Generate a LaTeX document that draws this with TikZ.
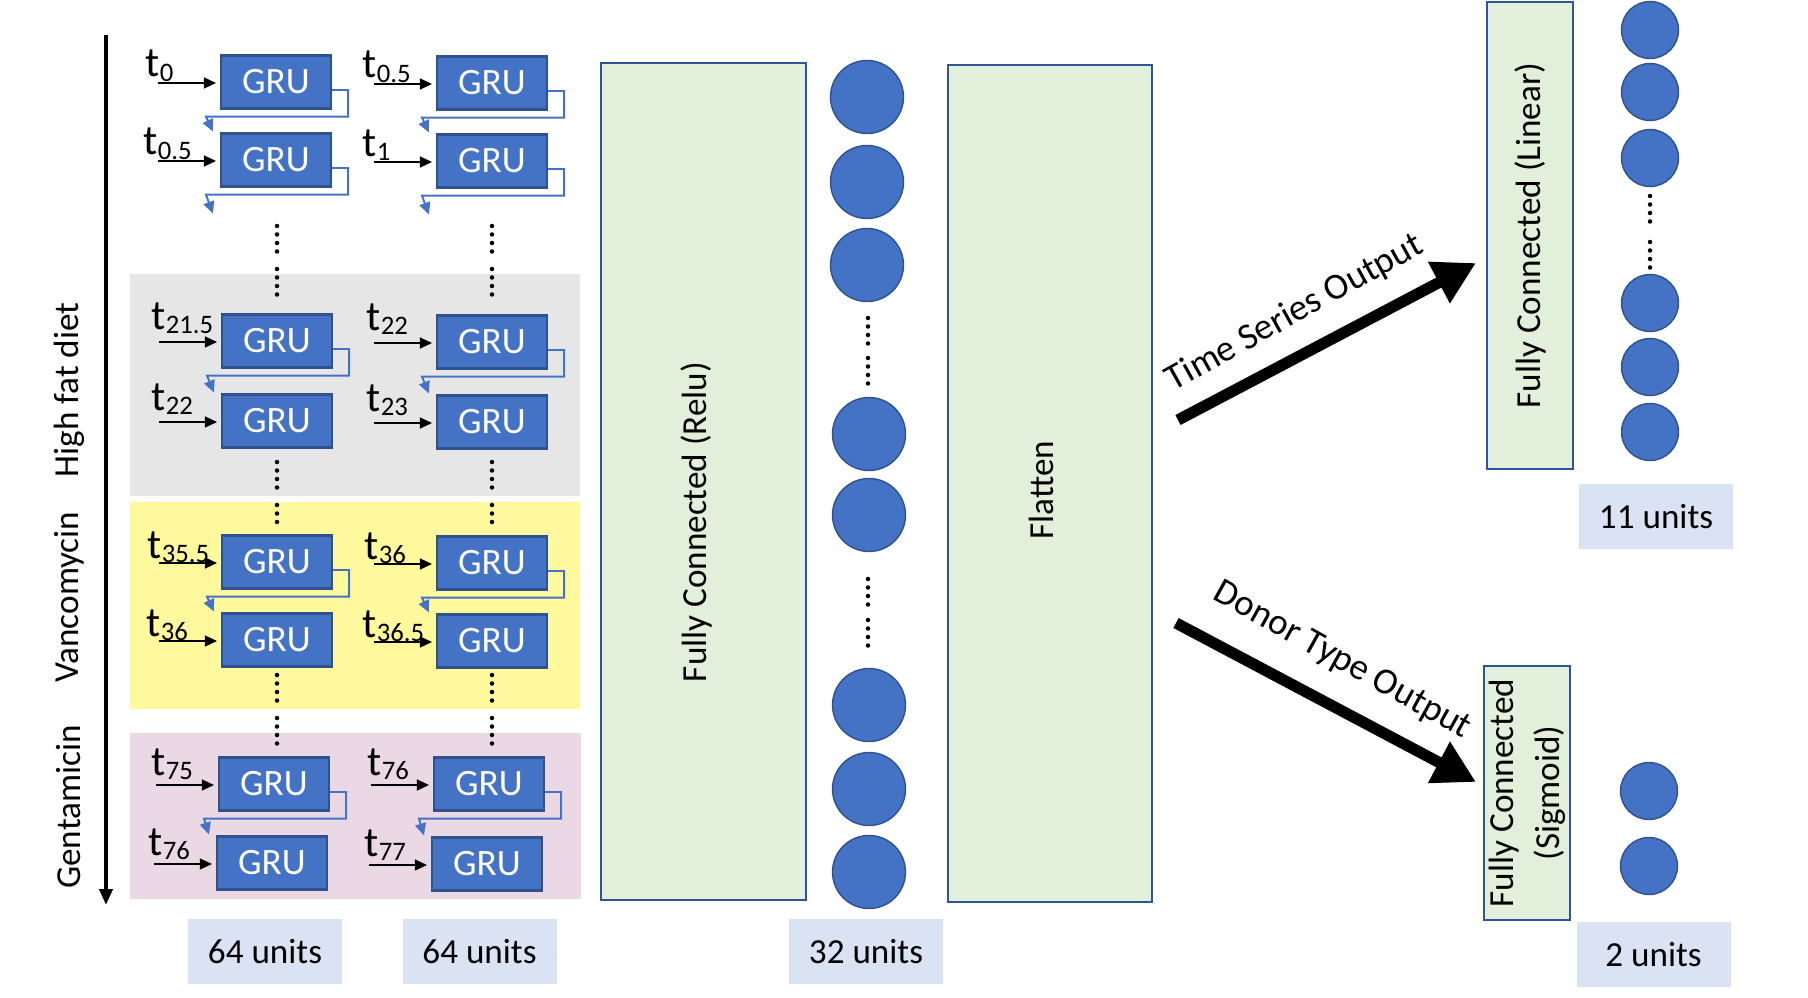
\documentclass[tikz,border=0pt]{standalone}
\usepackage{fontspec}
\setmainfont{Carlito}
\usepackage{tikz}
\usetikzlibrary{arrows.meta}
\definecolor{grufill}{HTML}{4472C4}
\definecolor{gruline}{HTML}{2F528F}
\definecolor{densefill}{HTML}{E2EFDA}
\definecolor{denseline}{HTML}{2F5597}
\definecolor{unitsfill}{HTML}{DAE3F3}
\definecolor{hfdgray}{HTML}{E7E6E6}
\definecolor{vancoyellow}{HTML}{FFF99E}
\definecolor{gentapink}{HTML}{EBD8E5}
\newcommand{\tsub}[1]{t\raisebox{-1.3pt}{\fontsize{7.6}{8}\selectfont #1}}
\tikzset{gru/.style={draw=gruline, fill=grufill, text=white, line width=0.6pt,
		minimum width=11mm, minimum height=5.3mm, inner sep=0pt,
		font=\fontsize{10.6}{12}\selectfont},
	tin/.style={anchor=base west, inner sep=0pt, font=\fontsize{12}{14}\selectfont},
	dense/.style={draw=denseline, fill=densefill, line width=0.5pt, inner sep=0pt,
		font=\fontsize{10}{13}\selectfont},
	neuron/.style={circle, draw=gruline, fill=grufill, line width=0.4pt, inner sep=0pt},
	units/.style={fill=unitsfill, inner sep=0pt, minimum width=15.4mm, minimum height=6.5mm,
		font=\fontsize{10}{12}\selectfont},
	phase/.style={rotate=90, inner sep=0pt, font=\fontsize{10}{12}\selectfont},
	vdots/.style={line width=0.45mm, line cap=round, dash pattern=on 0pt off 0.85mm},
	inarr/.style={-{Triangle[length=1.2mm,width=1.1mm]}, line width=0.4pt},
	looparr/.style={draw=grufill, line width=0.55pt, -{Triangle[length=1.2mm,width=1.1mm]}},
	outarr/.style={line width=3.2pt, -{Triangle[length=4.2mm,width=4.4mm]}}}

\begin{document}
\begin{tikzpicture}[x=0.1mm, y=-0.1mm]
	\useasboundingbox (0,0) rectangle (1808,998);
	% treatment phases
	\fill[hfdgray] (130,274) rectangle (580,496);
	\fill[vancoyellow] (130,502) rectangle (580,709);
	\fill[gentapink] (130,733) rectangle (581,899);
	\coordinate (axtop) at (106,35);
	\coordinate (axbot) at (106,905);
	\draw[line width=1.1pt, -{Triangle[length=1.6mm,width=1.3mm]}] (axtop) -- (axbot);
	\node[phase] (hfd) at (69,390) {High fat diet};
	\node[phase] (vanco) at (69,597) {Vancomycin};
	\node[phase] (genta) at (69,807) {Gentamicin};

	% two GRU layers
	\begin{scope}[every node/.style={gru}]
		\node (pre1a) at (276,82) {GRU};
		\node (pre1b) at (276,160) {GRU};
		\node (pre2a) at (492,83) {GRU};
		\node (pre2b) at (492,161) {GRU};
		\node (hfd1a) at (277,341) {GRU};
		\node (hfd1b) at (277,421) {GRU};
		\node (hfd2a) at (492,342) {GRU};
		\node (hfd2b) at (492,422) {GRU};
		\node (van1a) at (277,562) {GRU};
		\node (van1b) at (277,640) {GRU};
		\node (van2a) at (492,563) {GRU};
		\node (van2b) at (492,641) {GRU};
		\node (gen1a) at (274,784) {GRU};
		\node (gen1b) at (272,863) {GRU};
		\node (gen2a) at (489,784) {GRU};
		\node (gen2b) at (487,864) {GRU};
	\end{scope}
	\begin{scope}[every node/.style={tin}]
		\node (tpre1a) at ([shift={(-75,-5)}]pre1a.west) {\tsub{0}};
		\node (tpre1b) at ([shift={(-77,-5)}]pre1b.west) {\tsub{0.5}};
		\node (tpre2a) at ([shift={(-74,-5)}]pre2a.west) {\tsub{0.5}};
		\node (tpre2b) at ([shift={(-74,-5)}]pre2b.west) {\tsub{1}};
		\node (thfd1a) at ([shift={(-70,-12)}]hfd1a.west) {\tsub{21.5}};
		\node (thfd1b) at ([shift={(-70,-11)}]hfd1b.west) {\tsub{22}};
		\node (thfd2a) at ([shift={(-70,-12)}]hfd2a.west) {\tsub{22}};
		\node (thfd2b) at ([shift={(-70,-11)}]hfd2b.west) {\tsub{23}};
		\node (tvan1a) at ([shift={(-74,-4)}]van1a.west) {\tsub{35.5}};
		\node (tvan1b) at ([shift={(-75,-4)}]van1b.west) {\tsub{36}};
		\node (tvan2a) at ([shift={(-72,-4)}]van2a.west) {\tsub{36}};
		\node (tvan2b) at ([shift={(-74,-4)}]van2b.west) {\tsub{36.5}};
		\node (tgen1a) at ([shift={(-67,-9)}]gen1a.west) {\tsub{75}};
		\node (tgen1b) at ([shift={(-68,-8)}]gen1b.west) {\tsub{76}};
		\node (tgen2a) at ([shift={(-66,-9)}]gen2a.west) {\tsub{76}};
		\node (tgen2b) at ([shift={(-67,-8)}]gen2b.west) {\tsub{77}};
	\end{scope}
	\foreach \g in {pre1a,pre1b,pre2a,pre2b,hfd1a,hfd1b,hfd2a,hfd2b,van1a,van1b,van2a,van2b,gen1a,gen1b,gen2a,gen2b}
		\draw[inarr] ([shift={(-62,1)}]\g.west) -- ([shift={(-4,1)}]\g.west);

	% recurrent state
	\coordinate (pre1out) at ([shift={(-7,26)}]pre1b.south west);
	\coordinate (pre2out) at ([shift={(-7,26)}]pre2b.south west);
	\foreach \a/\b in {pre1a/pre1b,pre2a/pre2b,hfd1a/hfd1b,hfd2a/hfd2b,van1a/van1b,van2a/van2b,gen1a/gen1b,gen2a/gen2b}
		\draw[looparr] ([shift={(0,8)}]\a.east) -- ++(16,0) |- ([shift={(-14,7)}]\a.south west) -- ([shift={(-7,-1)}]\b.north west);
	\draw[looparr] ([shift={(0,8)}]pre1b.east) -- ++(16,0) |- ([shift={(-14,7)}]pre1b.south west) -- (pre1out);
	\draw[looparr] ([shift={(0,8)}]pre2b.east) -- ++(16,0) |- ([shift={(-14,7)}]pre2b.south west) -- (pre2out);

	% dots
	\foreach \x in {277,492} {
		\draw[vdots] (\x,226) -- (\x,251.6);
		\draw[vdots] (\x,269) -- (\x,294.6);
		\draw[vdots] (\x,462) -- (\x,487.6);
		\draw[vdots] (\x,505) -- (\x,522.1);
		\draw[vdots] (\x,675) -- (\x,700.6);
		\draw[vdots] (\x,718) -- (\x,743.6);
	}
	\node[units] (u64a) at (265,951.5) {64 units};
	\node[units] (u64b) at (479.5,951.5) {64 units};

	% dense part
	\node[dense, minimum width=20.5mm, minimum height=83.7mm] (relu) at (703.5,481.5) {};
	\node[phase] (relutxt) at (696,522) {Fully Connected (Relu)};
	\begin{scope}[every node/.style={neuron, minimum size=7.3mm}]
		\node (r1) at (867,97) {};
		\node (r2) at (867,182) {};
		\node (r3) at (867,265) {};
		\node (r4) at (869,434) {};
		\node (r5) at (869,515) {};
		\node (r6) at (869,705) {};
		\node (r7) at (869,789) {};
		\node (r8) at (869,872) {};
	\end{scope}
	\draw[vdots] (868,318) -- (868,343.6);
	\draw[vdots] (868,358) -- (868,383.6);
	\draw[vdots] (868,579) -- (868,604.6);
	\draw[vdots] (868,620) -- (868,645.6);
	\node[units] (u32) at (866,951.5) {32 units};
	\node[dense, minimum width=20.4mm, minimum height=83.7mm] (flat) at (1050,483.5) {};
	\node[phase] (flattxt) at (1041,490) {Flatten};

	% two heads
	\coordinate (tsfrom) at (1178,420);
	\coordinate (tsto) at (1476,263);
	\coordinate (dtfrom) at (1176,623);
	\coordinate (dtto) at (1476,782);
	\draw[outarr] (tsfrom) -- (tsto);
	\draw[outarr] (dtfrom) -- (dtto);
	\node[rotate=29, font=\fontsize{10.5}{12}\selectfont] (tslab) at (1295,313) {Time Series Output};
	\node[rotate=-29, font=\fontsize{10.5}{12}\selectfont] (dtlab) at (1342,661) {Donor Type Output};

	\node[dense, rotate=90, minimum width=46.7mm, minimum height=8.6mm] (linear) at (1530,235.5) {Fully Connected (Linear)};
	\begin{scope}[every node/.style={neuron, minimum size=5.7mm}]
		\node (l1) at (1650,30) {};
		\node (l2) at (1650,92) {};
		\node (l3) at (1650,158) {};
		\node (l4) at (1650,303) {};
		\node (l5) at (1650,367) {};
		\node (l6) at (1650,432) {};
		\node (s1) at (1649,791) {};
		\node (s2) at (1649,866) {};
	\end{scope}
	\draw[vdots] (1650,196) -- (1650,221.6);
	\draw[vdots] (1650,242) -- (1650,267.6);
	\node[units] (u11) at (1656,516.5) {11 units};
	\node[dense, rotate=90, align=center, minimum width=25.4mm, minimum height=8.6mm] (sigmoid) at (1527,793) {Fully Connected\\(Sigmoid)};
	\node[units] (u2) at (1653.5,954.5) {2 units};
\end{tikzpicture}
\end{document}
